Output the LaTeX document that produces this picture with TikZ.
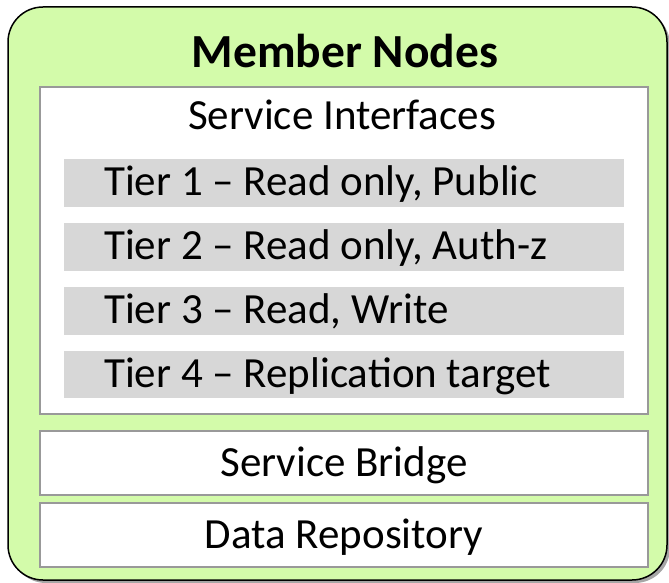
\documentclass[tikz,border=0pt]{standalone}
\usepackage{fontspec}
\setmainfont{Carlito}
\usetikzlibrary{shadows}
\definecolor{outergreen}{HTML}{D3FBAA}
\definecolor{tiergray}{HTML}{D7D7D7}
\definecolor{boxgray}{HTML}{999999}
\tikzset{
  outerbox/.style={draw=black, line width=1.5pt, fill=outergreen, rounded corners=35pt,
    drop shadow={shadow xshift=3pt, shadow yshift=-3pt, fill=black, opacity=0.35}},
  panel/.style={draw=boxgray, line width=1.5pt, fill=white},
  tierbar/.style={fill=tiergray, draw=none},
  lbl/.style={font=\fontsize{43}{50}\selectfont, inner sep=0pt},
}
\begin{document}
\begin{tikzpicture}[x=1pt, y=-1pt]
\useasboundingbox (0,0) rectangle (669,583);
\draw[outerbox] (8,7) rectangle (667,580);
\node[lbl, font=\fontsize{47.5}{54}\selectfont\bfseries, anchor=base] (title) at (345,68) {Member Nodes};
% service interfaces panel
\draw[panel] (40,87) rectangle (648,414);
\node[lbl, anchor=base] (si) at (342,130) {Service Interfaces};
\fill[tierbar] (64,159) rectangle (624,207);
\fill[tierbar] (64,223) rectangle (624,271);
\fill[tierbar] (64,287) rectangle (624,335);
\fill[tierbar] (64,351) rectangle (624,398);
\node[lbl, anchor=base west] (t1) at (104,195) {Tier 1 – Read only, Public};
\node[lbl, anchor=base west] (t2) at (104,259) {Tier 2 – Read only, Auth-z};
\node[lbl, anchor=base west] (t3) at (104,323) {Tier 3 – Read, Write};
\node[lbl, anchor=base west] (t4) at (104,387) {Tier 4 – Replication target};
% service bridge
\draw[panel] (40,431) rectangle (648,495);
\node[lbl, anchor=base] (sb) at (344,476) {Service Bridge};
% data repository
\draw[panel] (40,503) rectangle (648,567);
\node[lbl, anchor=base] (dr) at (344,548) {Data Repository};
\end{tikzpicture}
\end{document}
